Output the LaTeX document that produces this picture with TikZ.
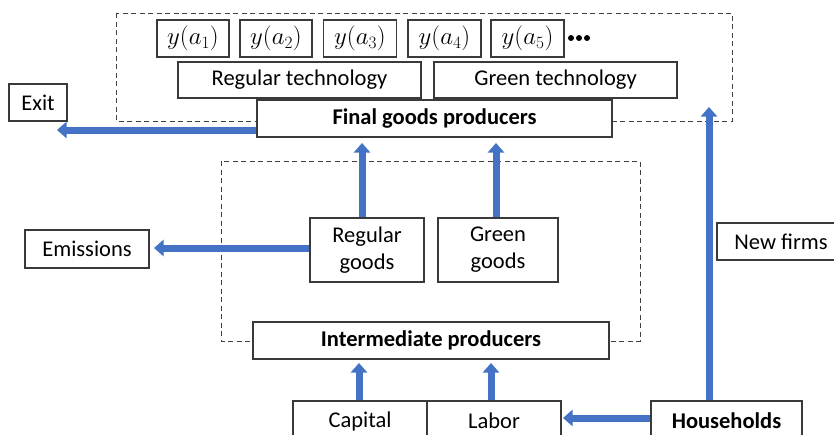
\documentclass[tikz,border=0pt]{standalone}
\usepackage{fontspec}
\setmainfont{Carlito}
\usetikzlibrary{arrows.meta}
\definecolor{arrowblue}{HTML}{4472C4}
\definecolor{boxline}{HTML}{3A3A3A}
\definecolor{dashline}{HTML}{404040}
\begin{document}
\begin{tikzpicture}[x=1pt,y=-1pt,
  font=\fontsize{22.5}{27}\selectfont,
  box/.style={draw=boxline, line width=1.1pt, fill=white, inner sep=0pt,
              minimum height=37pt, align=center},
  mbox/.style={box, font=\fontsize{25}{28}\selectfont},
  flow/.style={draw=arrowblue, line width=7pt,
               -{Triangle[width=16pt,length=9.5pt]}},
  dashbox/.style={draw=dashline, line width=0.9pt, dash pattern=on 5pt off 3.5pt}]
\useasboundingbox (0,0) rectangle (834,434);
\clip (0,0) rectangle (834,434);
\fill[white] (0,0) rectangle (834,434);

% dashed groups
\draw[dashbox] (116,13) rectangle (732,121);
\draw[dashbox] (221,161) rectangle (640,341);

% top row of technologies
\node[mbox, minimum width=72pt] (ya1) at (193,38.5) {$y(a_1)$};
\node[mbox, minimum width=72pt] (ya2) at (276,38.5) {$y(a_2)$};
\node[mbox, minimum width=73pt] (ya3) at (360,38.5) {$y(a_3)$};
\node[mbox, minimum width=73pt] (ya4) at (444.5,38.5) {$y(a_4)$};
\node[mbox, minimum width=73pt] (ya5) at (527.5,38.5) {$y(a_5)$};
\fill[black] (571,38) circle (3) (579,38) circle (3) (587,38) circle (3);

\node[box, minimum width=243pt, minimum height=36pt] (regtech) at (299.5,80) {Regular technology};
\node[box, minimum width=243pt, minimum height=36pt] (greentech) at (555.5,80) {Green technology};

\node[box, minimum width=355pt] (final) at (434.5,118.5) {\bfseries Final goods producers};
\node[box, minimum width=58pt] (exit) at (38,102.5) {Exit};

% goods
\node[box, minimum width=114pt, minimum height=64pt] (regular) at (367,250) {Regular\\goods};
\node[box, minimum width=120pt, minimum height=64pt] (green) at (498,250) {Green\\goods};
\node[box, minimum width=124pt, minimum height=38pt] (emis) at (87,249) {Emissions};

\node[box, minimum width=356pt] (inter) at (431,340.5) {\bfseries Intermediate producers};

% bottom row
\node[box, minimum width=134pt, minimum height=40pt] (capital) at (360,421) {Capital};
\node[box, minimum width=134pt, minimum height=40pt] (labor) at (494,421) {Labor};
\node[box, minimum width=151pt, minimum height=40pt] (house) at (726.5,421) {\bfseries Households};
\node[box, minimum width=128pt] (newfirms) at (781,241.5) {New firms};

% arrow tips
\coordinate (tExit) at (57,130);
\coordinate (tEmis) at (154,248);
\coordinate (tReg) at (362,143);
\coordinate (tGreen) at (496,143);
\coordinate (tCap) at (359,363);
\coordinate (tLab) at (491,363);
\coordinate (tHL) at (563,418);
\coordinate (tNew) at (709,107);

% flows
\draw[flow] (final.west |- tExit) -- (tExit);
\draw[flow] (regular.west |- tEmis) -- (tEmis);
\draw[flow] (regular.north -| tReg) -- (tReg);
\draw[flow] (green.north -| tGreen) -- (tGreen);
\draw[flow] (capital.north -| tCap) -- (tCap);
\draw[flow] (labor.north -| tLab) -- (tLab);
\draw[flow] (house.west |- tHL) -- (tHL);
\draw[flow] (house.north -| tNew) -- (tNew);
\end{tikzpicture}
\end{document}
